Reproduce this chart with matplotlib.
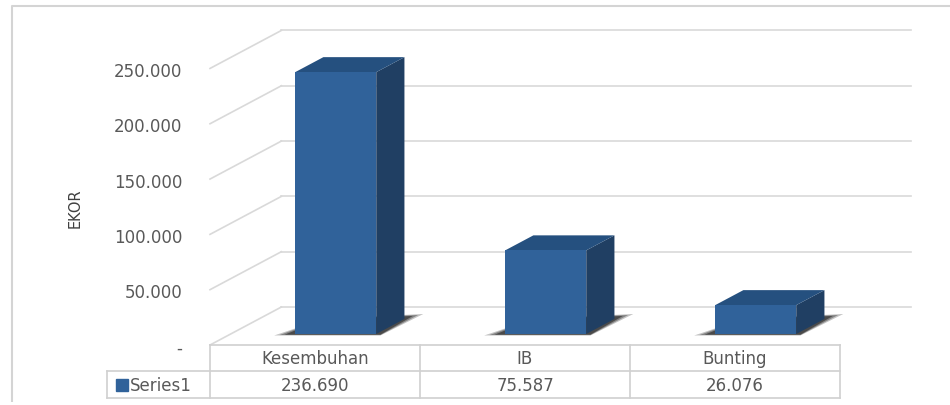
import matplotlib.pyplot as plt
from matplotlib.patches import Polygon
import numpy as np

# chart data
categories = ["Kesembuhan", "IB", "Bunting"]
values = [236690, 75587, 26076]
value_labels = ["236.690", "75.587", "26.076"]
series_name = "Series1"
y_ticks = [0, 50000, 100000, 150000, 200000, 250000]
y_tick_labels = ["-", "50.000", "100.000", "150.000", "200.000", "250.000"]
axis_title = "EKOR"

# colours
FRONT = "#30629a"
SIDE = "#203f63"
TOP = "#25507f"
GRID = "#d9d9d9"
TEXT = "#595959"

# one x unit = one table column, y is in EKOR
PX_X = 210.0          # pixels per category
PX_V = 904.0          # EKOR per pixel
DX = 0.34             # depth of the 3d box along x
DY = 38 * PX_V        # depth of the 3d box along y
F0, F1 = 0.29, 0.685  # bar front / back position in depth
BAR_W = 0.386

fig = plt.figure(figsize=(9.5, 4.06), dpi=100)
ax = fig.add_axes([0, 0, 1, 1])
ax.set_xlim(-1.5, 950 / PX_X - 1.5)
ax.set_ylim(-60 * PX_V, 346 * PX_V)
ax.set_axis_off()

n = len(categories)
x_left, x_right = -0.5, n - 0.5

# outer frame of the chart area
px = lambda p: p / PX_X - 1.5
py = lambda p: (346 - p) * PX_V
ax.plot([px(12), px(12), px(950)], [py(403), py(6.5), py(6.5)], color="#d4d4d4", lw=1.5,
        solid_capstyle="butt", zorder=1)

# back wall gridlines + side wall diagonals
for v in y_ticks:
    ax.plot([x_left + DX, x_right + DX], [v + DY, v + DY], color=GRID, lw=1.2, zorder=2)
    ax.plot([x_left, x_left + DX], [v, v + DY], color=GRID, lw=1.2, zorder=2)

# tick labels on the front left edge
for v, lab in zip(y_ticks, y_tick_labels):
    ax.text(x_left - 28 / PX_X, v - 2.5 * PX_V, lab, ha="right", va="center",
            fontsize=12, color=TEXT, family="DejaVu Sans", zorder=3)

ax.text(px(75), py(208), axis_title, rotation=90, ha="center", va="center",
        fontsize=10.5, color="#404040", family=["Liberation Sans Narrow", "DejaVu Sans"])

# bars
for i, v in enumerate(values):
    cx = i + F0 * DX
    x0, x1 = cx - BAR_W / 2, cx + BAR_W / 2
    yb = F0 * DY
    ddx = (F1 - F0) * DX
    ddy = (F1 - F0) * DY
    # shadow on the floor
    for k, a in enumerate([0.25, 0.35, 0.5]):
        g = k * 0.025
        sh = Polygon([(x0 - 0.1 + g, yb - (1.5 - 0.4 * k) * PX_V), (x1 + 0.02, yb - (1.5 - 0.4 * k) * PX_V),
                      (x1 + ddx + 0.09 - g, yb + ddy + (5 - k) * PX_V), (x0 + ddx, yb + ddy)],
                     closed=True, facecolor="#111111", edgecolor="none", alpha=a, zorder=4)
        ax.add_patch(sh)
    side = Polygon([(x1, yb), (x1 + ddx, yb + ddy), (x1 + ddx, yb + ddy + v), (x1, yb + v)],
                   closed=True, facecolor=SIDE, edgecolor="none", zorder=5)
    top = Polygon([(x0, yb + v), (x1, yb + v), (x1 + ddx, yb + ddy + v), (x0 + ddx, yb + ddy + v)],
                  closed=True, facecolor=TOP, edgecolor="none", zorder=5)
    ax.add_patch(side)
    ax.add_patch(top)
    ax.bar(cx, v, width=BAR_W, bottom=yb, color=FRONT, zorder=6)

# data table
row1 = -26 * PX_V
row2 = -53 * PX_V
x_series = x_left - 103 / PX_X
tcol = "#d0d0d0"
ax.plot([x_left, x_right], [0, 0], color=tcol, lw=1.2, zorder=3)
ax.plot([x_series, x_right], [row1, row1], color=tcol, lw=1.2, zorder=3)
ax.plot([x_series, x_right], [row2, row2], color=tcol, lw=1.2, zorder=3)
ax.plot([x_series, x_series], [row1, row2], color=tcol, lw=1.2, zorder=3)
for k in range(n + 1):
    ax.plot([x_left + k, x_left + k], [0, row2], color=tcol, lw=1.2, zorder=3)

for i, (c, lab) in enumerate(zip(categories, value_labels)):
    ax.text(i, row1 / 2 - 0.5 * PX_V, c, ha="center", va="center", fontsize=12, color=TEXT)
    ax.text(i, (row1 + row2) / 2 - 0.5 * PX_V, lab, ha="center", va="center", fontsize=12, color=TEXT)

ax.plot([px(121.5)], [(row1 + row2) / 2], marker="s", markersize=9, color=FRONT,
        linestyle="none", zorder=4)
ax.text(px(130), (row1 + row2) / 2 - 0.5 * PX_V, series_name, ha="left", va="center",
        fontsize=12, color=TEXT)

fig.savefig("out.png", dpi=100)
